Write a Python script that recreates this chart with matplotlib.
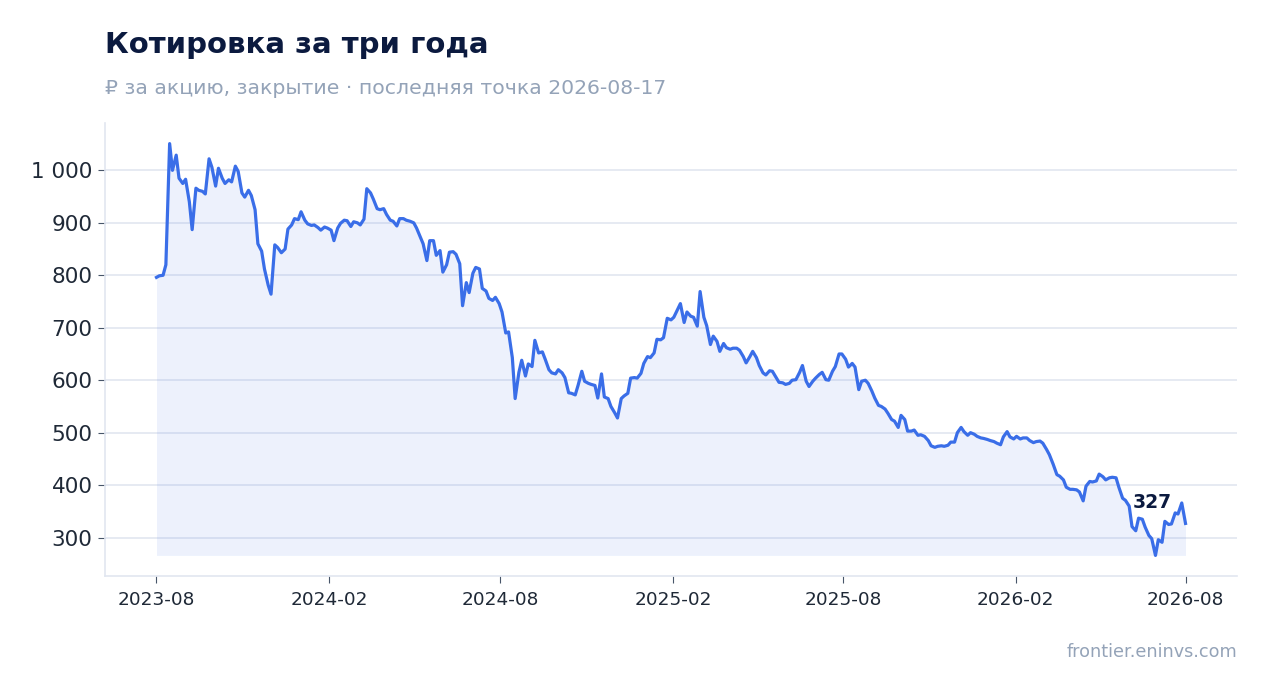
import matplotlib
matplotlib.use("Agg")
import matplotlib.pyplot as plt
import matplotlib.ticker as mticker
import pandas as pd

# twice-weekly closes
start_date = "2023-08-17"
end_date = "2026-08-17"
prices = [
    796, 799, 800, 820, 1051, 1000, 1029, 985, 975, 983,
    940, 887, 966, 962, 960, 955, 1022, 1006, 970, 1004,
    985, 975, 982, 978, 1008, 998, 957, 949, 962, 952,
    925, 860, 846, 812, 781, 764, 858, 853, 843, 850,
    888, 896, 908, 906, 921, 905, 898, 895, 896, 891,
    886, 892, 890, 886, 866, 890, 899, 905, 904, 893,
    902, 900, 896, 907, 965, 957, 945, 927, 925, 927,
    916, 905, 903, 894, 908, 908, 905, 903, 900, 890,
    873, 860, 828, 866, 866, 838, 847, 806, 820, 844,
    845, 840, 822, 742, 786, 767, 804, 815, 812, 775,
    770, 756, 752, 758, 746, 730, 690, 692, 643, 565,
    615, 638, 608, 631, 626, 676, 652, 654, 640, 620,
    614, 612, 620, 614, 605, 576, 575, 572, 590, 617,
    598, 594, 592, 590, 566, 612, 568, 565, 550, 538,
    528, 565, 570, 575, 604, 605, 604, 613, 632, 645,
    643, 652, 678, 677, 681, 718, 715, 720, 735, 746,
    710, 730, 722, 720, 703, 769, 720, 704, 668, 684,
    674, 655, 670, 662, 659, 661, 661, 657, 645, 633,
    645, 655, 643, 628, 614, 610, 618, 617, 605, 596,
    595, 592, 594, 600, 601, 615, 628, 598, 588, 598,
    604, 611, 615, 601, 600, 617, 626, 650, 650, 640,
    625, 632, 625, 582, 598, 600, 594, 579, 566, 552,
    550, 545, 537, 525, 522, 510, 533, 525, 503, 503,
    505, 495, 496, 493, 485, 475, 472, 474, 475, 474,
    476, 482, 482, 500, 510, 502, 495, 500, 497, 493,
    490, 489, 487, 485, 483, 480, 477, 492, 502, 492,
    488, 493, 488, 490, 490, 485, 481, 483, 484, 480,
    468, 458, 440, 420, 417, 410, 396, 392, 392, 391,
    387, 370, 398, 407, 406, 408, 421, 416, 410, 414,
    415, 414, 396, 375, 371, 360, 321, 313, 337, 335,
    320, 304, 298, 266, 296, 291, 331, 325, 326, 347,
    345, 366, 327,
]

title = "Котировка за три года"
subtitle = "₽ за акцию, закрытие · последняя точка 2026-08-17"
source = "frontier.eninvs.com"

dates = pd.date_range(start_date, end_date, periods=len(prices)).normalize()
tick_dates = pd.date_range(start_date, periods=7, freq=pd.DateOffset(months=6))

line_color = "#3a6ee8"
dark = "#0b1a3f"
grey = "#94a3b8"
grid_color = "#e1e6f0"
tick_text = "#1f2937"

fig = plt.figure(figsize=(12.67, 6.93), dpi=100)
ax = fig.add_axes([0.0829, 0.1688, 0.8934, 0.6537])

ax.fill_between(dates, prices, min(prices), color=line_color, alpha=0.09, linewidth=0)
ax.plot(dates, prices, color=line_color, linewidth=2.3, solid_joinstyle="round")

ax.set_xticks(tick_dates)
ax.set_xticklabels([d.strftime("%Y-%m") for d in tick_dates])
ax.yaxis.set_major_locator(mticker.MultipleLocator(100))
ax.yaxis.set_major_formatter(
    mticker.FuncFormatter(lambda v, pos: f"{v:,.0f}".replace(",", " ")))

ax.grid(axis="y", color=grid_color, linewidth=1.2)
ax.set_axisbelow(True)
for side in ("top", "right"):
    ax.spines[side].set_visible(False)
for side in ("left", "bottom"):
    ax.spines[side].set_color(grid_color)
    ax.spines[side].set_linewidth(1.2)
ax.tick_params(axis="y", labelsize=15.5, length=5, pad=4, color="#475569")
ax.tick_params(axis="x", labelsize=13.3, length=5, pad=6, color="#475569")
for lab in ax.get_xticklabels() + ax.get_yticklabels():
    lab.set_color(tick_text)

ax.annotate(f"{prices[-1]}", (dates[-1], prices[-1]), xytext=(-24, 15),
            textcoords="offset points", ha="center", va="center",
            fontsize=13.5, fontweight="bold", color=dark)

fig.text(0.0829, 0.935, title, fontsize=21, fontweight="bold", color=dark,
         ha="left", va="center")
fig.text(0.0829, 0.873, subtitle, fontsize=14.7, color=grey, ha="left", va="center")
fig.text(0.9763, 0.059, source, fontsize=12.7, color=grey, ha="right", va="center")

fig.savefig("out.png", dpi=100)
